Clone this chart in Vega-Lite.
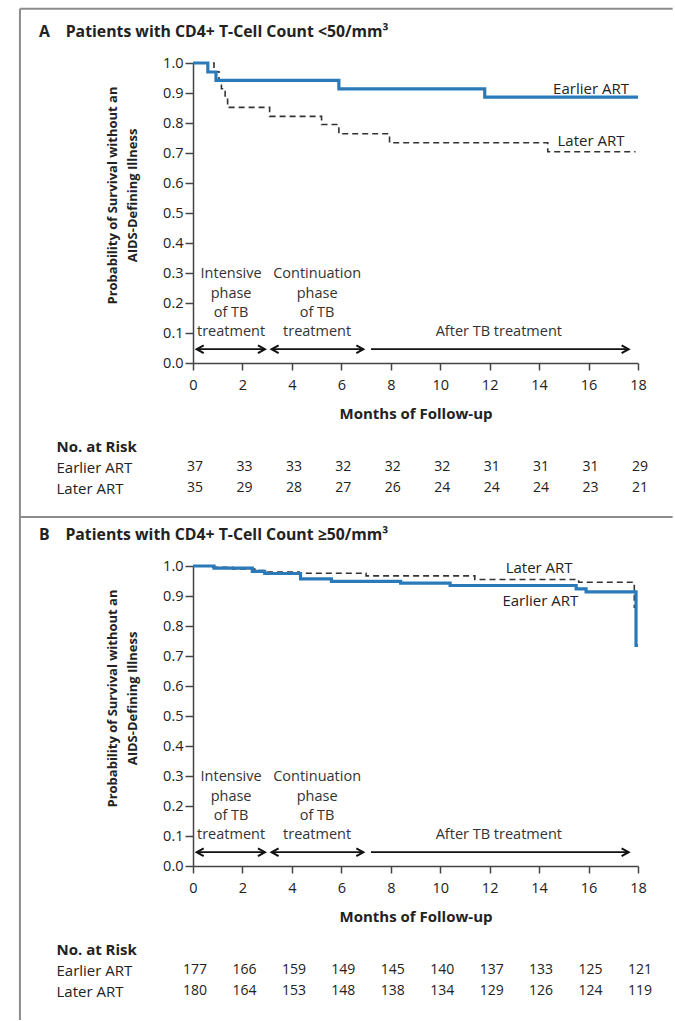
{
  "$schema": "https://vega.github.io/schema/vega-lite/v6.json",
  "padding": {"left": 18, "top": 7, "right": 0, "bottom": 0},
  "bounds": "flush",
  "spacing": 60,
  "datasets": {
    "km": [
      {"panel": "A", "group": "Earlier ART", "month": 0, "p": 1.0},
      {"panel": "A", "group": "Earlier ART", "month": 0.6, "p": 0.97},
      {"panel": "A", "group": "Earlier ART", "month": 0.93, "p": 0.942},
      {"panel": "A", "group": "Earlier ART", "month": 5.9, "p": 0.914},
      {"panel": "A", "group": "Earlier ART", "month": 11.8, "p": 0.886},
      {"panel": "A", "group": "Earlier ART", "month": 18.0, "p": 0.886},
      {"panel": "A", "group": "Later ART", "month": 0, "p": 1.0},
      {"panel": "A", "group": "Later ART", "month": 0.85, "p": 0.971},
      {"panel": "A", "group": "Later ART", "month": 1.05, "p": 0.943},
      {"panel": "A", "group": "Later ART", "month": 1.15, "p": 0.914},
      {"panel": "A", "group": "Later ART", "month": 1.3, "p": 0.886},
      {"panel": "A", "group": "Later ART", "month": 1.4, "p": 0.852},
      {"panel": "A", "group": "Later ART", "month": 3.1, "p": 0.822},
      {"panel": "A", "group": "Later ART", "month": 5.2, "p": 0.795},
      {"panel": "A", "group": "Later ART", "month": 5.9, "p": 0.764},
      {"panel": "A", "group": "Later ART", "month": 7.95, "p": 0.734},
      {"panel": "A", "group": "Later ART", "month": 14.35, "p": 0.704},
      {"panel": "A", "group": "Later ART", "month": 17.9, "p": 0.704},
      {"panel": "B", "group": "Earlier ART", "month": 0, "p": 1.0},
      {"panel": "B", "group": "Earlier ART", "month": 0.85, "p": 0.993},
      {"panel": "B", "group": "Earlier ART", "month": 2.4, "p": 0.982},
      {"panel": "B", "group": "Earlier ART", "month": 2.9, "p": 0.975},
      {"panel": "B", "group": "Earlier ART", "month": 4.35, "p": 0.957},
      {"panel": "B", "group": "Earlier ART", "month": 5.6, "p": 0.949},
      {"panel": "B", "group": "Earlier ART", "month": 8.4, "p": 0.943},
      {"panel": "B", "group": "Earlier ART", "month": 10.4, "p": 0.935},
      {"panel": "B", "group": "Earlier ART", "month": 15.5, "p": 0.924},
      {"panel": "B", "group": "Earlier ART", "month": 15.9, "p": 0.914},
      {"panel": "B", "group": "Earlier ART", "month": 17.92, "p": 0.735},
      {"panel": "B", "group": "Earlier ART", "month": 18.0, "p": 0.735},
      {"panel": "B", "group": "Later ART", "month": 0, "p": 1.0},
      {"panel": "B", "group": "Later ART", "month": 0.8, "p": 0.996},
      {"panel": "B", "group": "Later ART", "month": 1.6, "p": 0.99},
      {"panel": "B", "group": "Later ART", "month": 2.5, "p": 0.985},
      {"panel": "B", "group": "Later ART", "month": 3.0, "p": 0.98},
      {"panel": "B", "group": "Later ART", "month": 4.3, "p": 0.976},
      {"panel": "B", "group": "Later ART", "month": 7.0, "p": 0.967},
      {"panel": "B", "group": "Later ART", "month": 11.4, "p": 0.955},
      {"panel": "B", "group": "Later ART", "month": 15.6, "p": 0.946},
      {"panel": "B", "group": "Later ART", "month": 17.85, "p": 0.86}
    ],
    "curveLabels": [
      {"panel": "A", "text": "Earlier ART", "month": 16.1, "p": 0.915},
      {"panel": "A", "text": "Later ART", "month": 16.1, "p": 0.74},
      {"panel": "B", "text": "Later ART", "month": 14.0, "p": 0.993},
      {"panel": "B", "text": "Earlier ART", "month": 14.05, "p": 0.882}
    ],
    "phaseLines": [{"month": 3}, {"month": 7}],
    "phaseText": [
      {"text": "Intensive", "month": 1.54, "p": 0.296},
      {"text": "phase", "month": 1.54, "p": 0.231},
      {"text": "of TB", "month": 1.54, "p": 0.168},
      {"text": "treatment", "month": 1.54, "p": 0.104},
      {"text": "Continuation", "month": 5.02, "p": 0.296},
      {"text": "phase", "month": 5.02, "p": 0.231},
      {"text": "of TB", "month": 5.02, "p": 0.168},
      {"text": "treatment", "month": 5.02, "p": 0.104},
      {"text": "After TB treatment", "month": 12.37, "p": 0.104}
    ],
    "arrows": [
      {"month": 0.15, "month_end": 2.91, "p": 0.046, "both": true},
      {"month": 3.18, "month_end": 6.89, "p": 0.046, "both": true},
      {"month": 7.2, "month_end": 17.62, "p": 0.046, "both": false}
    ],
    "risk": [
      {"panel": "A", "group": "Earlier ART", "month": 0, "n": 37},
      {"panel": "A", "group": "Earlier ART", "month": 2, "n": 33},
      {"panel": "A", "group": "Earlier ART", "month": 4, "n": 33},
      {"panel": "A", "group": "Earlier ART", "month": 6, "n": 32},
      {"panel": "A", "group": "Earlier ART", "month": 8, "n": 32},
      {"panel": "A", "group": "Earlier ART", "month": 10, "n": 32},
      {"panel": "A", "group": "Earlier ART", "month": 12, "n": 31},
      {"panel": "A", "group": "Earlier ART", "month": 14, "n": 31},
      {"panel": "A", "group": "Earlier ART", "month": 16, "n": 31},
      {"panel": "A", "group": "Earlier ART", "month": 18, "n": 29},
      {"panel": "A", "group": "Later ART", "month": 0, "n": 35},
      {"panel": "A", "group": "Later ART", "month": 2, "n": 29},
      {"panel": "A", "group": "Later ART", "month": 4, "n": 28},
      {"panel": "A", "group": "Later ART", "month": 6, "n": 27},
      {"panel": "A", "group": "Later ART", "month": 8, "n": 26},
      {"panel": "A", "group": "Later ART", "month": 10, "n": 24},
      {"panel": "A", "group": "Later ART", "month": 12, "n": 24},
      {"panel": "A", "group": "Later ART", "month": 14, "n": 24},
      {"panel": "A", "group": "Later ART", "month": 16, "n": 23},
      {"panel": "A", "group": "Later ART", "month": 18, "n": 21},
      {"panel": "B", "group": "Earlier ART", "month": 0, "n": 177},
      {"panel": "B", "group": "Earlier ART", "month": 2, "n": 166},
      {"panel": "B", "group": "Earlier ART", "month": 4, "n": 159},
      {"panel": "B", "group": "Earlier ART", "month": 6, "n": 149},
      {"panel": "B", "group": "Earlier ART", "month": 8, "n": 145},
      {"panel": "B", "group": "Earlier ART", "month": 10, "n": 140},
      {"panel": "B", "group": "Earlier ART", "month": 12, "n": 137},
      {"panel": "B", "group": "Earlier ART", "month": 14, "n": 133},
      {"panel": "B", "group": "Earlier ART", "month": 16, "n": 125},
      {"panel": "B", "group": "Earlier ART", "month": 18, "n": 121},
      {"panel": "B", "group": "Later ART", "month": 0, "n": 180},
      {"panel": "B", "group": "Later ART", "month": 2, "n": 164},
      {"panel": "B", "group": "Later ART", "month": 4, "n": 153},
      {"panel": "B", "group": "Later ART", "month": 6, "n": 148},
      {"panel": "B", "group": "Later ART", "month": 8, "n": 138},
      {"panel": "B", "group": "Later ART", "month": 10, "n": 134},
      {"panel": "B", "group": "Later ART", "month": 12, "n": 129},
      {"panel": "B", "group": "Later ART", "month": 14, "n": 126},
      {"panel": "B", "group": "Later ART", "month": 16, "n": 124},
      {"panel": "B", "group": "Later ART", "month": 18, "n": 119}
    ],
    "frame": [
      {"panel": "A", "x": -7, "x2": 19.4, "y": 1, "y2": 1},
      {"panel": "A", "x": -7, "x2": -7, "y": 1, "y2": 0},
      {"panel": "A", "x": -7, "x2": 19.4, "y": 0, "y2": 0},
      {"panel": "B", "x": -7, "x2": -7, "y": 0, "y2": -0.99}
    ]
  },
  "vconcat": [
    {
      "width": 445,
      "height": 300,
      "title": {"text": "A\u2003Patients with CD4+ T-Cell Count <50/mm³", "anchor": "start", "frame": "group", "dx": -154, "offset": 2, "baseline": "alphabetic", "fontSize": 15.8, "fontWeight": "bold", "font": "Open Sans", "color": "#222"},
      "encoding": {
        "x": {"field": "month", "type": "quantitative", "title": "Months of Follow-up",
          "scale": {"domain": [0, 18], "nice": false, "zero": false},
          "axis": {"values": [0, 2, 4, 6, 8, 10, 12, 14, 16, 18], "grid": false, "tickSize": 7, "tickWidth": 1.5, "tickColor": "#444", "domainColor": "#444", "domainWidth": 1.5, "labelFontSize": 14.5, "labelColor": "#222", "labelPadding": 8, "labelFlush": false, "titleFontSize": 15, "titleFontWeight": "bold", "titleColor": "#222", "titlePadding": 15}},
        "y": {"field": "p", "type": "quantitative", "title": ["Probability of Survival without an", "AIDS-Defining Illness"],
          "scale": {"domain": [0, 1], "nice": false},
          "axis": {"values": [0, 0.1, 0.2, 0.3, 0.4, 0.5, 0.6, 0.7, 0.8, 0.9, 1.0], "format": ".1f", "grid": false, "tickSize": 8, "tickWidth": 1.5, "tickColor": "#444", "domainColor": "#444", "domainWidth": 1.5, "labelFontSize": 14.5, "labelColor": "#222", "labelPadding": 2, "titleFont": "Open Sans", "titleFontSize": 13, "titleFontWeight": "bold", "titleColor": "#222", "titleLineHeight": 20, "titlePadding": 23, "titleY": 132}}
      },
      "layer": [
        {"data": {"name": "phaseLines"}, "mark": {"type": "rule", "color": "#a8a8a8", "strokeWidth": 2.5}, "encoding": {"y": {"datum": 0}, "y2": {"datum": 1}}},
        {"data": {"name": "km"}, "transform": [{"filter": "datum.panel === 'A' && datum.group === 'Later ART'"}], "mark": {"type": "line", "interpolate": "step-after", "color": "#333", "strokeWidth": 1.6, "strokeDash": [6, 4]}},
        {"data": {"name": "km"}, "transform": [{"filter": "datum.panel === 'A' && datum.group === 'Earlier ART'"}], "mark": {"type": "line", "interpolate": "step-after", "color": "#2a7ab9", "strokeWidth": 3.2}},
        {"data": {"name": "curveLabels"}, "transform": [{"filter": "datum.panel === 'A'"}], "mark": {"type": "text", "fontSize": 15, "color": "#222", "align": "center", "baseline": "middle"}, "encoding": {"text": {"field": "text"}}},
        {"data": {"name": "arrows"}, "mark": {"type": "rule", "color": "#111", "strokeWidth": 1.8}, "encoding": {"x2": {"field": "month_end"}}},
        {"data": {"name": "arrows"}, "transform": [{"filter": "datum.both"}], "mark": {"type": "point", "shape": "M1,-0.55L0,0L1,0.55", "size": 196, "filled": false, "color": "#111", "strokeWidth": 2, "opacity": 1}},
        {"data": {"name": "arrows"}, "mark": {"type": "point", "shape": "M-1,-0.55L0,0L-1,0.55", "size": 196, "filled": false, "color": "#111", "strokeWidth": 2, "opacity": 1}, "encoding": {"x": {"field": "month_end", "type": "quantitative"}}},
        {"data": {"name": "phaseText"}, "mark": {"type": "text", "fontSize": 14.5, "color": "#333", "align": "center", "baseline": "middle"}, "encoding": {"text": {"field": "text"}}}
      ]
    },
    {
      "width": 445,
      "height": 83,
      "layer": [
        {"data": {"name": "risk"}, "transform": [{"filter": "datum.panel === 'A'"}],
          "mark": {"type": "text", "fontSize": 14, "color": "#222", "dx": 2, "baseline": "middle"},
          "encoding": {
            "x": {"field": "month", "type": "quantitative", "scale": {"domain": [0, 18], "nice": false, "zero": false}, "axis": null},
            "y": {"field": "group", "type": "nominal", "scale": {"type": "point", "domain": ["No. at Risk", "Earlier ART", "Later ART"], "padding": 1.0244, "align": 0.571},
              "axis": {"title": null, "domain": false, "ticks": false, "tickSize": 0, "labelAlign": "left", "labelBaseline": "middle", "labelPadding": 137, "labelFontSize": 15, "labelColor": "#222", "labelFontWeight": {"condition": {"test": "datum.value === 'No. at Risk'", "value": "bold"}, "value": "normal"}}},
            "text": {"field": "n", "type": "quantitative"}
          }},
        {"data": {"name": "frame"}, "transform": [{"filter": "datum.panel === 'A'"}],
          "mark": {"type": "rule", "color": "#8c8c8c", "strokeWidth": 2},
          "encoding": {
            "x": {"field": "x", "type": "quantitative", "scale": {"domain": [0, 18], "nice": false, "zero": false}, "axis": null},
            "x2": {"field": "x2"},
            "y": {"field": "y", "type": "quantitative", "scale": {"domain": [0.0217, 0.185], "nice": false, "zero": false}, "axis": null},
            "y2": {"field": "y2"}
          }}
      ],
      "resolve": {"scale": {"y": "independent"}, "axis": {"y": "independent"}}
    },
    {
      "width": 445,
      "height": 300,
      "title": {"text": "B\u2003Patients with CD4+ T-Cell Count ≥50/mm³", "anchor": "start", "frame": "group", "dx": -154, "offset": 2, "baseline": "alphabetic", "fontSize": 15.8, "fontWeight": "bold", "font": "Open Sans", "color": "#222"},
      "encoding": {
        "x": {"field": "month", "type": "quantitative", "title": "Months of Follow-up",
          "scale": {"domain": [0, 18], "nice": false, "zero": false},
          "axis": {"values": [0, 2, 4, 6, 8, 10, 12, 14, 16, 18], "grid": false, "tickSize": 7, "tickWidth": 1.5, "tickColor": "#444", "domainColor": "#444", "domainWidth": 1.5, "labelFontSize": 14.5, "labelColor": "#222", "labelPadding": 8, "labelFlush": false, "titleFontSize": 15, "titleFontWeight": "bold", "titleColor": "#222", "titlePadding": 15}},
        "y": {"field": "p", "type": "quantitative", "title": ["Probability of Survival without an", "AIDS-Defining Illness"],
          "scale": {"domain": [0, 1], "nice": false},
          "axis": {"values": [0, 0.1, 0.2, 0.3, 0.4, 0.5, 0.6, 0.7, 0.8, 0.9, 1.0], "format": ".1f", "grid": false, "tickSize": 8, "tickWidth": 1.5, "tickColor": "#444", "domainColor": "#444", "domainWidth": 1.5, "labelFontSize": 14.5, "labelColor": "#222", "labelPadding": 2, "titleFont": "Open Sans", "titleFontSize": 13, "titleFontWeight": "bold", "titleColor": "#222", "titleLineHeight": 20, "titlePadding": 23, "titleY": 132}}
      },
      "layer": [
        {"data": {"name": "phaseLines"}, "mark": {"type": "rule", "color": "#a8a8a8", "strokeWidth": 2.5}, "encoding": {"y": {"datum": 0}, "y2": {"datum": 1}}},
        {"data": {"name": "km"}, "transform": [{"filter": "datum.panel === 'B' && datum.group === 'Later ART'"}], "mark": {"type": "line", "interpolate": "step-after", "color": "#333", "strokeWidth": 1.6, "strokeDash": [6, 4]}},
        {"data": {"name": "km"}, "transform": [{"filter": "datum.panel === 'B' && datum.group === 'Earlier ART'"}], "mark": {"type": "line", "interpolate": "step-after", "color": "#2a7ab9", "strokeWidth": 3.2}},
        {"data": {"name": "curveLabels"}, "transform": [{"filter": "datum.panel === 'B'"}], "mark": {"type": "text", "fontSize": 15, "color": "#222", "align": "center", "baseline": "middle"}, "encoding": {"text": {"field": "text"}}},
        {"data": {"name": "arrows"}, "mark": {"type": "rule", "color": "#111", "strokeWidth": 1.8}, "encoding": {"x2": {"field": "month_end"}}},
        {"data": {"name": "arrows"}, "transform": [{"filter": "datum.both"}], "mark": {"type": "point", "shape": "M1,-0.55L0,0L1,0.55", "size": 196, "filled": false, "color": "#111", "strokeWidth": 2, "opacity": 1}},
        {"data": {"name": "arrows"}, "mark": {"type": "point", "shape": "M-1,-0.55L0,0L-1,0.55", "size": 196, "filled": false, "color": "#111", "strokeWidth": 2, "opacity": 1}, "encoding": {"x": {"field": "month_end", "type": "quantitative"}}},
        {"data": {"name": "phaseText"}, "mark": {"type": "text", "fontSize": 14.5, "color": "#333", "align": "center", "baseline": "middle"}, "encoding": {"text": {"field": "text"}}}
      ]
    },
    {
      "width": 445,
      "height": 83,
      "layer": [
        {"data": {"name": "risk"}, "transform": [{"filter": "datum.panel === 'B'"}],
          "mark": {"type": "text", "fontSize": 14, "color": "#222", "dx": 2, "baseline": "middle"},
          "encoding": {
            "x": {"field": "month", "type": "quantitative", "scale": {"domain": [0, 18], "nice": false, "zero": false}, "axis": null},
            "y": {"field": "group", "type": "nominal", "scale": {"type": "point", "domain": ["No. at Risk", "Earlier ART", "Later ART"], "padding": 1.0244, "align": 0.571},
              "axis": {"title": null, "domain": false, "ticks": false, "tickSize": 0, "labelAlign": "left", "labelBaseline": "middle", "labelPadding": 137, "labelFontSize": 15, "labelColor": "#222", "labelFontWeight": {"condition": {"test": "datum.value === 'No. at Risk'", "value": "bold"}, "value": "normal"}}},
            "text": {"field": "n", "type": "quantitative"}
          }},
        {"data": {"name": "frame"}, "transform": [{"filter": "datum.panel === 'B'"}],
          "mark": {"type": "rule", "color": "#8c8c8c", "strokeWidth": 2},
          "encoding": {
            "x": {"field": "x", "type": "quantitative", "scale": {"domain": [0, 18], "nice": false, "zero": false}, "axis": null},
            "x2": {"field": "x2"},
            "y": {"field": "y", "type": "quantitative", "scale": {"domain": [-0.9685, -0.8051], "nice": false, "zero": false}, "axis": null},
            "y2": {"field": "y2"}
          }}
      ],
      "resolve": {"scale": {"y": "independent"}, "axis": {"y": "independent"}}
    }
  ],
  "config": {
    "font": "Open Sans",
    "view": {"stroke": null},
    "axis": {"labelFont": "Open Sans", "titleFont": "Open Sans"},
    "text": {"font": "Open Sans"}
  }
}
